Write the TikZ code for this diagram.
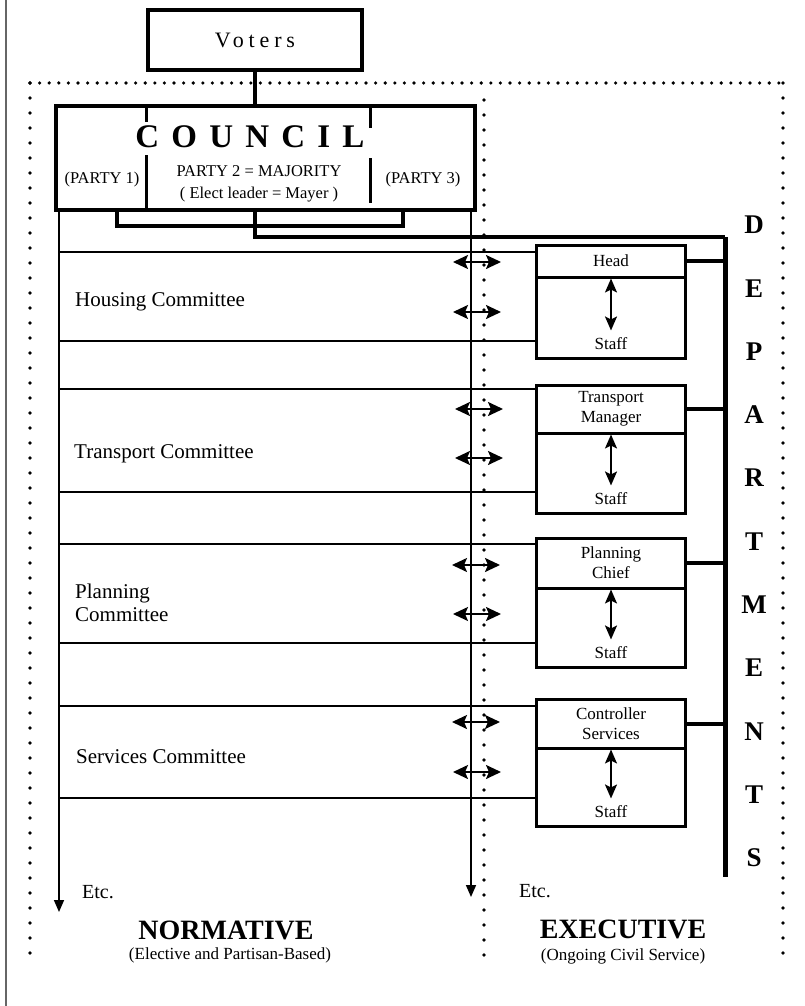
\documentclass[tikz,border=0pt]{standalone}
\usepackage{fontspec}
\setmainfont{Liberation Serif}
\usetikzlibrary{arrows.meta,positioning}

\begin{document}
\begin{tikzpicture}[
    x=1pt, y=-1pt,
    framebox/.style={rectangle, draw, line width=3.5pt, inner sep=0pt, outer sep=0pt},
    headbox/.style={framebox, line width=3pt, minimum width=149pt, align=center, font=\fontsize{17}{20}\selectfont},
    staffbox/.style={framebox, line width=3pt, minimum width=149pt},
    stafftext/.style={font=\fontsize{17}{20}\selectfont, inner sep=1pt},
    committee/.style={anchor=west, align=left, inner sep=0pt, font=\fontsize{21}{23}\selectfont},
    partytext/.style={align=center, inner sep=0pt, font=\fontsize{16.5}{22}\selectfont},
    heading/.style={inner sep=0pt, font=\fontsize{28}{30}\selectfont\bfseries},
    subheading/.style={inner sep=0pt, font=\fontsize{17}{20}\selectfont},
    thinline/.style={line width=1.6pt},
    heavy/.style={line width=4pt},
    divider/.style={line width=3pt},
    dotsdown/.style={line width=3.6pt, line cap=round, dash pattern=on 0pt off 15pt},
    dotsacross/.style={line width=3.6pt, line cap=round, dash pattern=on 0pt off 9.6pt},
    twoway/.style={{Stealth[length=15pt, width=14pt, inset=3pt]}-{Stealth[length=15pt, width=14pt, inset=3pt]}, line width=2pt},
    updown/.style={{Stealth[length=14pt, width=12pt, inset=3pt]}-{Stealth[length=14pt, width=12pt, inset=3pt]}, line width=2pt, shorten <=1.5pt, shorten >=6pt},
    downarrow/.style={-{Triangle[length=12pt, width=10pt]}, thinline}
]
    \useasboundingbox (0,0) rectangle (804,1006);

    % Scan edge
    \draw[line width=1.5pt, black!60] (6,0) -- (6,1006);

    % Dotted frame
    \draw[dotsacross] (30,83) -- (783,83);
    \draw[dotsdown] (30,83) -- (30,955);
    \draw[dotsdown] (783,83) -- (783,955);
    \draw[dotsdown] (484,100) -- (484,955);

    % Voters and council
    \node[framebox, minimum width=214pt, minimum height=60pt, font={\fontsize{22}{24}\selectfont\addfontfeature{LetterSpace=22}}] (voters) at (255,40) {Voters};
    \node[framebox, minimum width=419pt, minimum height=104pt] (council) at (265.5,158) {};
    \draw[heavy] (voters.south) -- (voters.south |- council.north);

    \node[font={\fontsize{33}{36}\selectfont\bfseries\addfontfeature{LetterSpace=37}}, inner sep=0pt] (counciltitle) at (250,137) {COUNCIL};
    \node[partytext] (party1) at (102,180) {(PARTY 1)};
    \node[partytext] (party2) at (259,184) {PARTY 2 = MAJORITY\\( Elect leader = Mayer )};
    \node[partytext] (party3) at (423,180) {(PARTY 3)};

    % Party dividers
    \draw[divider] (146,106) -- (146,122);
    \draw[divider] (146,155) -- (146,210);
    \draw[divider] (370,106) -- (370,128);
    \draw[divider] (370,158) -- (370,203);

    % Bracket and spine
    \coordinate (bracketL) at (117,226);
    \coordinate (bracketR) at (403,226);
    \coordinate (spinetop) at (725,237);
    \coordinate (spinebot) at (725,877);
    \draw[heavy] (bracketL |- council.south) -- (bracketL) -- (bracketR) -- (bracketR |- council.south);
    \draw[heavy] (voters.south |- council.south) -- (voters.south |- spinetop) -- (spinetop);
    \draw[line width=5pt] (spinetop) -- (spinebot);

    % Normative and executive lines
    \coordinate (normend) at (59,912);
    \coordinate (execend) at (471,897);
    \draw[downarrow] (normend |- council.south) -- (normend);
    \draw[downarrow] (execend |- council.south) -- (execend);

    % Departments
    \node[headbox, minimum height=32pt] (housinghead) at (611,261) {Head};
    \node[staffbox, minimum height=81pt, below=0pt of housinghead] (housingstaff) {};
    \node[stafftext, above=7pt of housingstaff.south] (housingstafftext) {Staff};

    \node[headbox, minimum height=48pt] (transporthead) at (611,409) {Transport\\Manager};
    \node[staffbox, minimum height=80pt, below=0pt of transporthead] (transportstaff) {};
    \node[stafftext, above=7pt of transportstaff.south] (transportstafftext) {Staff};

    \node[headbox, minimum height=50pt] (planninghead) at (611,563) {Planning\\Chief};
    \node[staffbox, minimum height=79pt, below=0pt of planninghead] (planningstaff) {};
    \node[stafftext, above=7pt of planningstaff.south] (planningstafftext) {Staff};

    \node[headbox, minimum height=49pt] (serviceshead) at (611,723.5) {Controller\\Services};
    \node[staffbox, minimum height=78pt, below=0pt of serviceshead] (servicesstaff) {};
    \node[stafftext, above=7pt of servicesstaff.south] (servicesstafftext) {Staff};

    \draw[updown] (housingstaff.north) -- (housingstafftext.north);
    \draw[updown] (transportstaff.north) -- (transportstafftext.north);
    \draw[updown] (planningstaff.north) -- (planningstafftext.north);
    \draw[updown] (servicesstaff.north) -- (servicesstafftext.north);

    \draw[heavy] (housinghead.east) -- (housinghead.east -| spinetop);
    \draw[heavy] (transporthead.east) -- (transporthead.east -| spinetop);
    \draw[heavy] (planninghead.east) -- (planninghead.east -| spinetop);
    \draw[heavy] (serviceshead.east) -- (serviceshead.east -| spinetop);

    \node[font=\fontsize{27}{63.3}\selectfont\bfseries, align=center, inner sep=0pt] (departments) at (754,541.5) {D\\E\\P\\A\\R\\T\\M\\E\\N\\T\\S};

    % Committees
    \coordinate (housingtop) at (59,252);
    \coordinate (housingbot) at (59,341);
    \coordinate (transporttop) at (59,389);
    \coordinate (transportbot) at (59,492);
    \coordinate (planningtop) at (59,544);
    \coordinate (planningbot) at (59,643);
    \coordinate (servicestop) at (59,706);
    \coordinate (servicesbot) at (59,798);
    \draw[thinline] (housingtop) -- (housingtop -| housinghead.west);
    \draw[thinline] (housingbot) -- (housingbot -| housingstaff.west);
    \draw[thinline] (transporttop) -- (transporttop -| transporthead.west);
    \draw[thinline] (transportbot) -- (transportbot -| transportstaff.west);
    \draw[thinline] (planningtop) -- (planningtop -| planninghead.west);
    \draw[thinline] (planningbot) -- (planningbot -| planningstaff.west);
    \draw[thinline] (servicestop) -- (servicestop -| serviceshead.west);
    \draw[thinline] (servicesbot) -- (servicesbot -| servicesstaff.west);

    \node[committee] (housing) at (75,302) {Housing Committee};
    \node[committee] (transport) at (74,454) {Transport Committee};
    \node[committee] (planning) at (75,603) {Planning\\Committee};
    \node[committee] (services) at (76,757) {Services Committee};

    % Links between committees and departments
    \coordinate (link1) at (477,262);
    \coordinate (link2) at (477,312);
    \coordinate (link3) at (479,409);
    \coordinate (link4) at (479,458);
    \coordinate (link5) at (476,565);
    \coordinate (link6) at (477,614);
    \coordinate (link7) at (476,722);
    \coordinate (link8) at (477,772);
    \draw[twoway] ([xshift=-24pt]link1) -- ([xshift=24pt]link1);
    \draw[twoway] ([xshift=-24pt]link2) -- ([xshift=24pt]link2);
    \draw[twoway] ([xshift=-24pt]link3) -- ([xshift=24pt]link3);
    \draw[twoway] ([xshift=-24pt]link4) -- ([xshift=24pt]link4);
    \draw[twoway] ([xshift=-24pt]link5) -- ([xshift=24pt]link5);
    \draw[twoway] ([xshift=-24pt]link6) -- ([xshift=24pt]link6);
    \draw[twoway] ([xshift=-24pt]link7) -- ([xshift=24pt]link7);
    \draw[twoway] ([xshift=-24pt]link8) -- ([xshift=24pt]link8);

    % Bottom labels
    \node[committee, font=\fontsize{20}{22}\selectfont] (etcleft) at (82,892) {Etc.};
    \node[committee, font=\fontsize{20}{22}\selectfont] (etcright) at (519,891) {Etc.};
    \node[heading] (normative) at (226,930) {NORMATIVE};
    \node[subheading] (normativesub) at (230,955) {(Elective and Partisan-Based)};
    \node[heading] (executive) at (623,929) {EXECUTIVE};
    \node[subheading] (executivesub) at (623,956) {(Ongoing Civil Service)};
\end{tikzpicture}
\end{document}
